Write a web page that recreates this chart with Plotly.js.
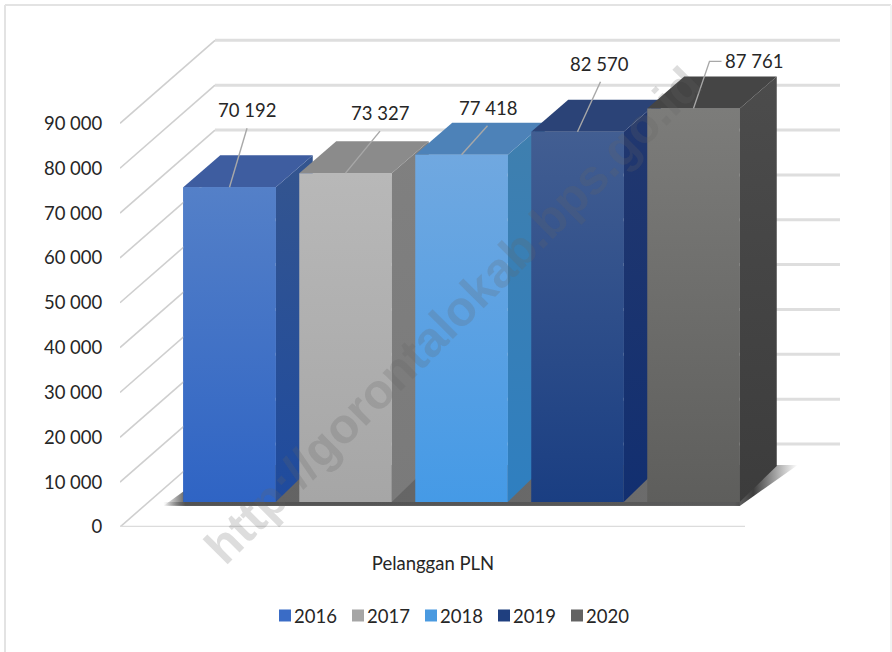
<!DOCTYPE html>
<html>
<head>
<meta charset="utf-8">
<script src="https://cdn.plot.ly/plotly-3.0.1.min.js"></script>
<style>html,body{margin:0;padding:0;background:#fff}#c{width:892px;height:652px}</style>
</head>
<body>
<div id="c"></div>
<script>
// ---- data ----
const years = ['2016','2017','2018','2019','2020'];
const customers = [70192,73327,77418,82570,87761];
const axisTicks = [0,10000,20000,30000,40000,50000,60000,70000,80000,90000];
const categoryLabel = 'Pelanggan PLN';
const watermark = 'http://gorontalokab.bps.go.id';

// ---- colours ----
const legendColors = ['#3a6cc6','#a5a5a5','#4a9ae0','#1f3f7f','#636363'];
const frontTop = ['#5480c8','#b8b8b8','#70a8e0','#425e92','#7c7c7a'];
const frontBottom = ['#2f64c4','#a6a6a6','#459ae6','#1a3e82','#5e5e5c'];
const sideTop = ['#34558f','#808080','#3f7fae','#22386f','#4c4c4c'];
const sideBottom = ['#1f4b9e','#7a7a7a','#2f7fc0','#122f70','#3c3c3c'];
const topFace = ['#3e5da0','#8b8b8b','#4d82b8','#2b4377','#454545'];

// ---- 3-D projection constants (in pixels of the plot area) ----
const VAL_PER_PX = 10000/44.85;
const plotW = 720, plotH = 497;
const wallDx = 95, wallDy = 83;
const barW = 92.5, barGap = 116, firstCentre = 109.5;
const depthDx = 37, depthTopDy = 32, depthBottomDy = 36;
const floorLift = 25*VAL_PER_PX;
const labelOffset = [[17.5,-59],[34.5,-42],[26,-29],[23,-50],[16,-47]];
const labelTextDy = [-18,-18,-18,-18,0];
const labelTextDx = [0,0,0,-1,44];
const u = p => p*VAL_PER_PX;

const traces = [];
const none = {width:0};
function poly(x,y,opts){
  traces.push(Object.assign({type:'scatter',mode:'lines',x:x.concat(x[0]),y:y.concat(y[0]),fill:'toself',
    line:none,showlegend:false,hoverinfo:'skip'},opts));
}
function segs(x,y,color,width){
  traces.push({type:'scatter',mode:'lines',x:x,y:y,line:{color:color,width:width},showlegend:false,hoverinfo:'skip'});
}
function grad(a,b,type){return {type:type||'vertical',colorscale:[[0,a],[1,b]]};}

// legend-carrying bars (front planes)
const centres = years.map((_,i)=>firstCentre+i*barGap);
years.forEach((y,i)=>{
  traces.push({type:'bar',name:y,x:[centres[i]],y:[customers[i]],base:[floorLift],width:[barW],
    marker:{color:legendColors[i]},hovertemplate:y+': %{y:,d}<extra></extra>'});
});

// walls
axisTicks.forEach(t=>{
  segs([0,wallDx],[t,t+u(wallDy)],'#cfcfcf',1.6);
  segs([wallDx,plotW],[t+u(wallDy),t+u(wallDy)],'#dedede',3);
});
segs([0,625],[0,0],'#dcdcdc',2.5);

// floor shadow
const sx0 = centres[0]-barW/2-20, sx1 = centres[4]+barW/2;
poly([sx0,sx1,sx1+depthDx+21,sx1+depthDx,centres[0]-barW/2+depthDx],
     [floorLift-u(4),floorLift-u(4),floorLift+u(37),floorLift+u(37),floorLift+u(37)],
     {fillgradient:{type:'horizontal',colorscale:[[0,'rgba(90,90,90,0)'],[0.035,'rgba(80,80,80,0.9)'],[0.9,'rgba(110,110,110,1)'],[0.93,'rgba(40,40,40,0.9)'],[1,'rgba(60,60,60,0)']]}});
poly([sx0,sx1,sx1,sx0],[floorLift-u(3.5),floorLift-u(3.5),floorLift,floorLift],
     {fillgradient:{type:'horizontal',colorscale:[[0,'rgba(60,60,60,0)'],[0.03,'rgba(60,60,60,0.4)'],[1,'rgba(60,60,60,0.4)']]}});

// bars, left to right so nearer faces overlap
years.forEach((y,i)=>{
  const xl=centres[i]-barW/2, xr=centres[i]+barW/2, yb=floorLift, yt=floorLift+customers[i];
  poly([xr,xr,xr+depthDx,xr+depthDx],[yb,yt,yt+u(depthTopDy),yb+u(depthBottomDy)],{fillgradient:grad(sideBottom[i],sideTop[i])});
  poly([xl,xr,xr+depthDx,xl+depthDx],[yt,yt,yt+u(depthTopDy),yt+u(depthTopDy)],{fillcolor:topFace[i]});
  poly([xl,xr,xr,xl],[yb,yb,yt,yt],{fillgradient:grad(frontBottom[i],frontTop[i])});
});

// leader lines
years.forEach((y,i)=>{
  const yt=floorLift+customers[i], o=labelOffset[i];
  const xs=[centres[i],centres[i]+o[0]], ys=[yt,yt-u(o[1])];
  if(i===4){xs.push(xs[1]+12);ys.push(ys[1]);}
  segs(xs,ys,'#a8a8a8',1.4);
});

const fmt = v => String(v).replace(/\B(?=(\d{3})+$)/g,' ');
const font = 'Lato, Liberation Sans, sans-serif';
const annotations = years.map((y,i)=>{
  const yt=floorLift+customers[i], o=labelOffset[i];
  return {xref:'x',yref:'y',x:centres[i]+o[0]+labelTextDx[i],y:yt-u(o[1])-u(labelTextDy[i]),
    text:fmt(customers[i]),showarrow:false,font:{family:font,size:18.5,color:'#262626'},xanchor:'center',yanchor:'middle'};
});
annotations.push({xref:'x',yref:'y',x:333,y:u(212),text:watermark,textangle:-45,showarrow:false,
  font:{family:'Liberation Sans, sans-serif',size:49,color:'rgba(100,100,100,0.22)',weight:700}});

const px = p => (p-120)/720, py = p => (527-p)/497;
const border = (x0,y0,x1,y1,c) => ({type:'line',xref:'paper',yref:'paper',x0:px(x0),x1:px(x1),y0:py(y0),y1:py(y1),line:{color:c,width:2},layer:'below'});

const layout = {
  width:892,height:652,margin:{l:120,r:52,t:30,b:125},
  paper_bgcolor:'#fff',plot_bgcolor:'rgba(0,0,0,0)',
  separators:'. ',showlegend:true,barmode:'overlay',
  font:{family:font,size:18.5,color:'#262626'},
  xaxis:{range:[0,plotW],showgrid:false,zeroline:false,showline:false,tickmode:'array',tickvals:[313],ticktext:[categoryLabel],
    ticks:'outside',ticklen:20,tickcolor:'rgba(0,0,0,0)',tickfont:{family:font,size:18.5,color:'#262626'}},
  yaxis:{range:[0,u(plotH)],showgrid:false,zeroline:false,showline:false,tickmode:'array',tickvals:axisTicks,tickformat:',d',
    ticks:'outside',ticklen:13,tickcolor:'rgba(0,0,0,0)',tickfont:{family:font,size:18.5,color:'#262626'}},
  legend:{orientation:'h',x:px(265),xanchor:'left',y:-0.179,yanchor:'middle',traceorder:'normal',entrywidth:28,entrywidthmode:'pixels',
    font:{family:font,size:18.5,color:'#262626'}},
  annotations:annotations,
  shapes:[border(5,652,5,5,'#e3e3e3'),border(5,5,891,5,'#e3e3e3'),border(891,5,891,652,'#f2f2f2')]
};
Plotly.newPlot('c',traces,layout,{displayModeBar:false,responsive:false}).then(()=>{
  // tighten the gap between legend swatch and its label
  document.querySelectorAll('#c .legendtext').forEach(t=>{
    t.setAttribute('x',parseFloat(t.getAttribute('x'))-11);
  });
});
</script>
</body>
</html>
